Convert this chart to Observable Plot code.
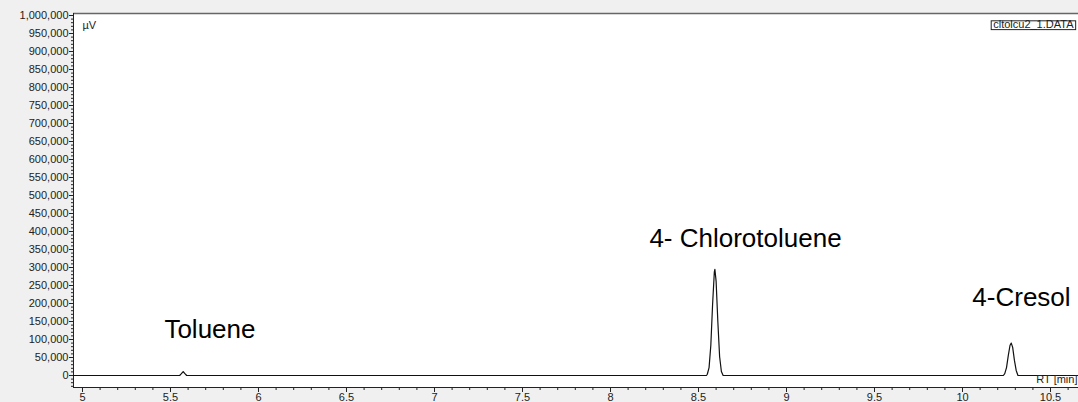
<!DOCTYPE html>
<html><head><meta charset="utf-8">
<script src="https://cdn.jsdelivr.net/npm/d3@7"></script>
<script src="https://cdn.jsdelivr.net/npm/@observablehq/plot@0.6"></script>
<style>
html,body{margin:0;padding:0;background:#f0f0f0;}
svg{display:block;}
#chart{position:relative;}
</style></head><body><div id="chart"></div>
<script>
// Retention time (min) and detector signal (µV)
const rt = [4.949, 5.552, 5.562, 5.572, 5.582, 5.592,
  8.545, 8.55, 8.56, 8.57, 8.58, 8.59, 8.593, 8.60, 8.61, 8.62, 8.63, 8.64,
  10.232, 10.24, 10.25, 10.26, 10.27, 10.277, 10.285, 10.295, 10.305, 10.315, 10.659];
const signal = [0, 0, 5000, 11000, 5000, 0,
  0, 3500, 22000, 84000, 197000, 288000, 295000, 262000, 148000, 52000, 11000, 0,
  0, 5000, 22000, 55000, 84000, 90000, 78000, 42000, 14000, 0, 0];

// Peak annotations
const peakNames = ["Toluene", "4- Chlorotoluene", "4-Cresol"];
const labelRt = [5.724, 8.767, 10.335];
const labelSignal = [126000, 381000, 217500];

// Axes
const xTicks = [5, 5.5, 6, 6.5, 7, 7.5, 8, 8.5, 9, 9.5, 10, 10.5];
const xMinorTicks = d3.range(50, 107).map(i => i / 10);
const yTicks = d3.range(0, 1000001, 50000);
const yMinorTicks = d3.range(-30000, 1000001, 10000);
const xDomain = [4.9489, 10.659];
const yDomain = [-33333, 1005556];
const yUnit = "µV";
const xUnit = "RT [min]";
const fileName = "cltolcu2_1.DATA";

const data = rt.map((d, i) => ({rt: d, signal: signal[i]}));
const labels = peakNames.map((n, i) => ({name: n, rt: labelRt[i], signal: labelSignal[i]}));

const ink = "#222";
const chart = Plot.plot({
  width: 1078, height: 402,
  marginLeft: 73, marginRight: 0, marginTop: 13, marginBottom: 15,
  style: {background: "#f0f0f0", fontFamily: "'Liberation Sans', Arial, sans-serif", fontSize: "11px", color: ink, overflow: "visible"},
  x: {domain: xDomain, axis: null},
  y: {domain: yDomain, axis: null},
  marks: [
    Plot.frame({fill: "white", stroke: null}),
    Plot.ruleY([yDomain[1]], {stroke: "#666", strokeWidth: 1.5}),
    Plot.axisX(xMinorTicks, {tickSize: 3, text: null, label: null, stroke: ink}),
    Plot.axisX(xTicks, {tickSize: 5, tickPadding: 1, label: null, tickFormat: d => String(d), fill: ink, stroke: ink, fontSize: 11}),
    Plot.axisY(yMinorTicks, {tickSize: 2, text: null, label: null, stroke: ink}),
    Plot.axisY(yTicks, {tickSize: 4, tickPadding: 1, label: null, tickFormat: d3.format(","), fill: ink, stroke: ink, fontSize: 11}),
    Plot.ruleX([xDomain[0]], {stroke: ink}),
    Plot.ruleY([yDomain[0]], {stroke: ink}),
    Plot.line(data, {x: "rt", y: "signal", stroke: "#111", strokeWidth: 1.2}),
    Plot.text(labels, {x: "rt", y: "signal", text: "name", fontSize: 26, fill: "#000"}),
    Plot.text([yUnit], {frameAnchor: "top-left", textAnchor: "start", lineAnchor: "top", dx: 9, dy: 8, fontSize: 11, fill: ink}),
    Plot.text([xUnit], {frameAnchor: "bottom-right", textAnchor: "end", lineAnchor: "bottom", dx: -1, dy: -5, fontSize: 11, fill: ink}),
    Plot.text([fileName], {frameAnchor: "top-right", textAnchor: "end", lineAnchor: "top", dx: -5, dy: 7, fontSize: 11, fill: ink})
  ]
});
document.getElementById("chart").appendChild(chart);

// box around the file name (same transform as the text)
const fileText = Array.from(chart.querySelectorAll("text")).find(e => (e.textContent || "").trim() === fileName);
if (fileText) {
  const b = fileText.getBBox();
  const r = document.createElementNS("http://www.w3.org/2000/svg", "rect");
  r.setAttribute("x", b.x - 2);
  r.setAttribute("y", b.y + 2.5);
  r.setAttribute("width", b.width + 3.5);
  r.setAttribute("height", b.height - 3.2);
  r.setAttribute("fill", "white");
  r.setAttribute("stroke", ink);
  r.setAttribute("stroke-width", "1");
  const tr = fileText.getAttribute("transform");
  if (tr) r.setAttribute("transform", tr);
  fileText.parentNode.insertBefore(r, fileText);
}
</script></body></html>
